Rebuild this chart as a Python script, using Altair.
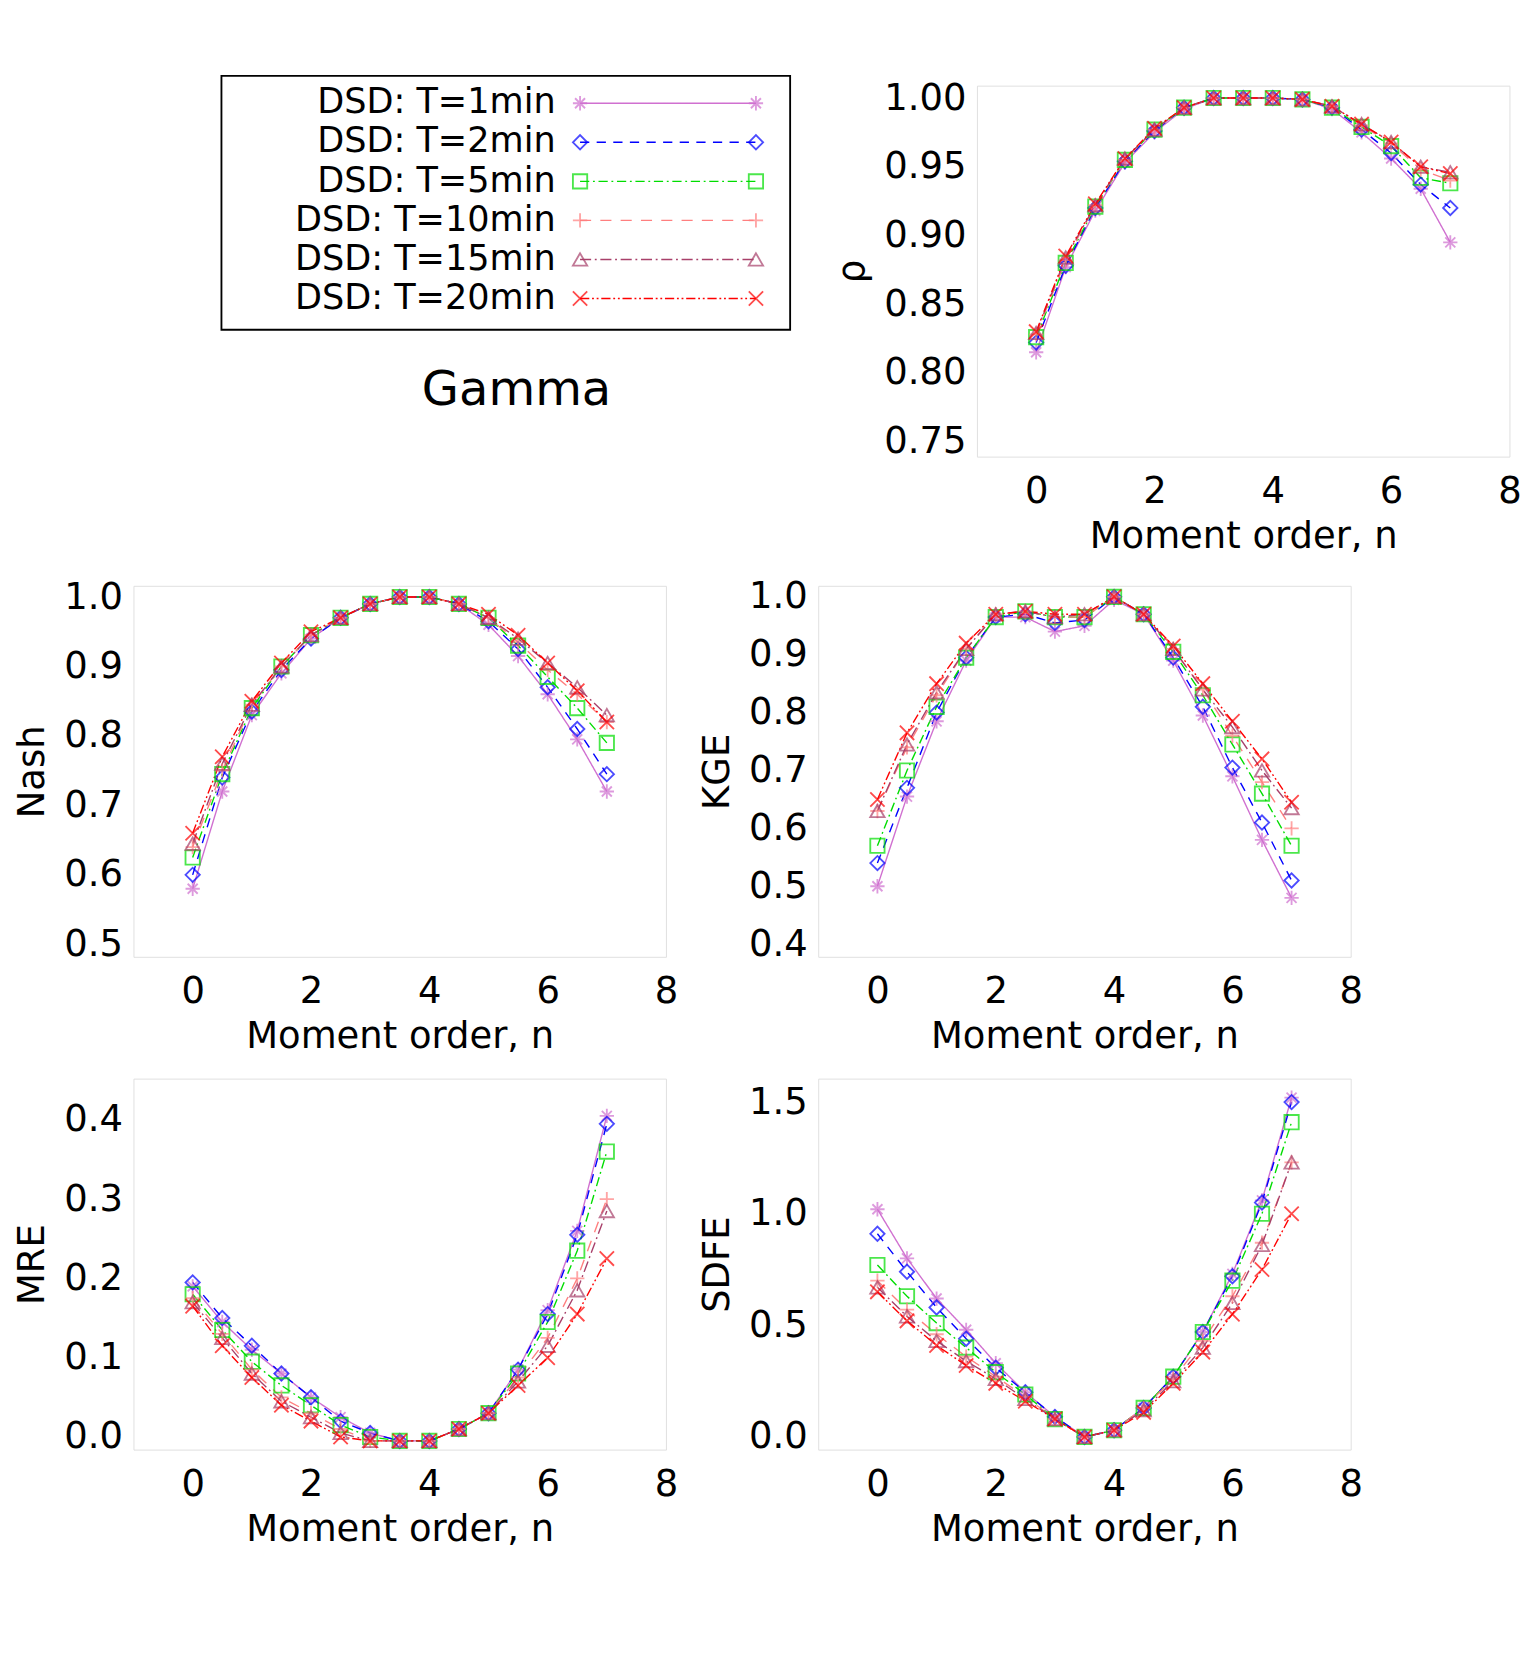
import altair as alt
import pandas as pd

n = [0, 0.5, 1, 1.5, 2, 2.5, 3, 3.5, 4, 4.5, 5, 5.5, 6, 6.5, 7]
series = ["DSD: T=1min", "DSD: T=2min", "DSD: T=5min", "DSD: T=10min", "DSD: T=15min", "DSD: T=20min"]
colors = ["#d070d0", "#0000ff", "#00dd00", "#ff7f7f", "#a8406a", "#ff0000"]
dashes = [[1, 0], [10, 8], [10, 4, 2, 4], [12, 10], [12, 4, 2, 4], [10, 3, 2, 3, 2, 3]]
shapes = [
    "M-1,0L1,0M0,-1L0,1M-0.7,-0.7L0.7,0.7M-0.7,0.7L0.7,-0.7",
    "diamond",
    "square",
    "M-1,0L1,0M0,-1L0,1",
    "triangle-up",
    "M-1,-1L1,1M-1,1L1,-1",
]

rho = [
    [0.815, 0.877, 0.918, 0.953, 0.975, 0.992, 1.0, 1.0, 1.0, 0.999, 0.992, 0.975, 0.956, 0.934, 0.895],
    [0.822, 0.878, 0.920, 0.954, 0.976, 0.993, 1.0, 1.0, 1.0, 0.999, 0.993, 0.977, 0.960, 0.937, 0.920],
    [0.826, 0.880, 0.921, 0.955, 0.977, 0.993, 1.0, 1.0, 1.0, 0.999, 0.993, 0.979, 0.965, 0.942, 0.938],
    [0.828, 0.882, 0.922, 0.955, 0.977, 0.993, 1.0, 1.0, 1.0, 0.999, 0.994, 0.980, 0.967, 0.948, 0.940],
    [0.829, 0.884, 0.922, 0.956, 0.977, 0.993, 1.0, 1.0, 1.0, 0.999, 0.994, 0.981, 0.968, 0.950, 0.946],
    [0.830, 0.885, 0.923, 0.956, 0.978, 0.993, 1.0, 1.0, 1.0, 0.999, 0.994, 0.981, 0.968, 0.950, 0.945],
]
nash = [
    [0.58, 0.72, 0.83, 0.89, 0.94, 0.97, 0.99, 1.0, 1.0, 0.99, 0.96, 0.915, 0.86, 0.795, 0.72],
    [0.60, 0.74, 0.835, 0.895, 0.94, 0.97, 0.99, 1.0, 1.0, 0.99, 0.965, 0.925, 0.87, 0.81, 0.745],
    [0.625, 0.745, 0.84, 0.90, 0.945, 0.97, 0.99, 1.0, 1.0, 0.99, 0.97, 0.93, 0.885, 0.84, 0.79],
    [0.64, 0.75, 0.845, 0.90, 0.945, 0.97, 0.99, 1.0, 1.0, 0.99, 0.97, 0.935, 0.895, 0.86, 0.82],
    [0.645, 0.76, 0.845, 0.90, 0.945, 0.97, 0.99, 1.0, 1.0, 0.99, 0.97, 0.94, 0.905, 0.87, 0.83],
    [0.66, 0.77, 0.85, 0.905, 0.95, 0.97, 0.99, 1.0, 1.0, 0.99, 0.975, 0.945, 0.905, 0.865, 0.82],
]
kge = [
    [0.50, 0.655, 0.785, 0.89, 0.965, 0.965, 0.94, 0.95, 0.995, 0.97, 0.89, 0.795, 0.69, 0.58, 0.48],
    [0.54, 0.67, 0.80, 0.895, 0.965, 0.97, 0.955, 0.96, 1.0, 0.97, 0.895, 0.81, 0.705, 0.61, 0.51],
    [0.57, 0.70, 0.81, 0.895, 0.965, 0.975, 0.965, 0.965, 1.0, 0.97, 0.905, 0.83, 0.745, 0.66, 0.57],
    [0.63, 0.74, 0.83, 0.91, 0.97, 0.975, 0.965, 0.965, 1.0, 0.97, 0.91, 0.84, 0.76, 0.68, 0.60],
    [0.63, 0.745, 0.835, 0.91, 0.97, 0.975, 0.965, 0.97, 1.0, 0.97, 0.91, 0.84, 0.775, 0.70, 0.635],
    [0.65, 0.765, 0.85, 0.92, 0.97, 0.975, 0.97, 0.97, 1.0, 0.97, 0.915, 0.85, 0.785, 0.72, 0.645],
]
mre = [
    [0.19, 0.145, 0.11, 0.08, 0.05, 0.025, 0.005, -0.005, -0.005, 0.01, 0.03, 0.085, 0.16, 0.26, 0.405],
    [0.195, 0.15, 0.115, 0.08, 0.05, 0.02, 0.005, -0.005, -0.005, 0.01, 0.03, 0.085, 0.155, 0.255, 0.395],
    [0.18, 0.135, 0.095, 0.065, 0.04, 0.015, 0.0, -0.005, -0.005, 0.01, 0.03, 0.08, 0.145, 0.235, 0.36],
    [0.175, 0.13, 0.085, 0.05, 0.03, 0.01, -0.005, -0.005, -0.005, 0.01, 0.03, 0.075, 0.125, 0.20, 0.30],
    [0.17, 0.125, 0.08, 0.045, 0.025, 0.005, -0.005, -0.005, -0.005, 0.01, 0.03, 0.07, 0.115, 0.185, 0.285],
    [0.165, 0.115, 0.075, 0.04, 0.02, 0.0, -0.005, -0.005, -0.005, 0.01, 0.03, 0.065, 0.10, 0.155, 0.225],
]
sdfe = [
    [1.02, 0.80, 0.62, 0.48, 0.33, 0.20, 0.09, 0.0, 0.03, 0.13, 0.27, 0.47, 0.73, 1.06, 1.52],
    [0.91, 0.74, 0.58, 0.44, 0.31, 0.20, 0.09, 0.0, 0.03, 0.13, 0.27, 0.47, 0.72, 1.05, 1.50],
    [0.77, 0.63, 0.51, 0.40, 0.29, 0.19, 0.08, 0.0, 0.03, 0.13, 0.27, 0.47, 0.70, 1.00, 1.41],
    [0.70, 0.57, 0.46, 0.36, 0.27, 0.18, 0.08, 0.0, 0.03, 0.13, 0.26, 0.43, 0.63, 0.87, 1.23],
    [0.67, 0.54, 0.43, 0.34, 0.26, 0.17, 0.08, 0.0, 0.03, 0.12, 0.25, 0.40, 0.60, 0.86, 1.23],
    [0.65, 0.52, 0.41, 0.32, 0.24, 0.16, 0.08, 0.0, 0.03, 0.11, 0.24, 0.38, 0.55, 0.75, 1.00],
]

FONT = "DejaVu Sans"
FS = 40
W, H = 577, 402

color_sc = alt.Scale(domain=series, range=colors)
dash_sc = alt.Scale(domain=series, range=dashes)
shape_sc = alt.Scale(domain=series, range=shapes)


def axis(**kw):
    return alt.Axis(grid=False, ticks=False, domain=False, labelFont=FONT, titleFont=FONT,
                    labelFontSize=FS, titleFontSize=FS, labelFontWeight="normal",
                    titleFontWeight="normal", labelColor="black", titleColor="black",
                    labelFlush=False, **kw)


def long_df(values):
    rows = []
    for s, vals in zip(series, values):
        for x, v in zip(n, vals):
            rows.append({"n": x, "v": v, "series": s})
    return pd.DataFrame(rows)


def panel(values, ytitle, ydom, yticks, yfmt):
    df = long_df(values)
    x = alt.X("n:Q", scale=alt.Scale(domain=[-1, 8], nice=False),
              axis=axis(values=[0, 2, 4, 6, 8], title="Moment order, n", labelPadding=18, titlePadding=8))
    y = alt.Y("v:Q", scale=alt.Scale(domain=ydom, nice=False, zero=False),
              axis=axis(values=yticks, format=yfmt, title=ytitle, labelPadding=12, titlePadding=14))
    base = alt.Chart(df).encode(x=x, y=y,
                                color=alt.Color("series:N", scale=color_sc, legend=None))
    lines = base.mark_line(strokeWidth=1.5).encode(
        strokeDash=alt.StrokeDash("series:N", scale=dash_sc, legend=None))
    pts = base.mark_point(filled=False, size=240, strokeWidth=2).encode(
        shape=alt.Shape("series:N", scale=shape_sc, legend=None))
    return (lines + pts).properties(width=W, height=H)


# legend panel (coordinates in reference pixels, scaled to chart size)
leg = pd.DataFrame({
    "series": series,
    "y": [18, 58, 98, 138, 178, 218],
    "x0": [457] * 6,
    "x1": [637] * 6,
    "tx": [432] * 6,
})
LW = 738
lx = alt.Scale(domain=[0, 697], range=[0, LW], nice=False, zero=False)
ly = alt.Scale(domain=[0, 380], range=[0, H], nice=False, zero=False)
lbase = alt.Chart(leg).encode(y=alt.Y("y:Q", scale=ly, axis=None),
                              color=alt.Color("series:N", scale=color_sc, legend=None))
lrule = lbase.mark_rule(strokeWidth=1.5).encode(
    x=alt.X("x0:Q", scale=lx, axis=None), x2="x1:Q",
    strokeDash=alt.StrokeDash("series:N", scale=dash_sc, legend=None))
lp0 = lbase.mark_point(filled=False, size=240, strokeWidth=2).encode(
    x=alt.X("x0:Q", scale=lx, axis=None), shape=alt.Shape("series:N", scale=shape_sc, legend=None))
lp1 = lbase.mark_point(filled=False, size=240, strokeWidth=2).encode(
    x=alt.X("x1:Q", scale=lx, axis=None), shape=alt.Shape("series:N", scale=shape_sc, legend=None))
ltext = alt.Chart(leg).mark_text(align="right", baseline="middle", fontSize=38, font=FONT,
                                 color="black").encode(
    x=alt.X("tx:Q", scale=lx, axis=None), y=alt.Y("y:Q", scale=ly, axis=None), text="series:N")
box = pd.DataFrame({"x": [90], "x2": [672], "y": [-10], "y2": [250]})
lbox = alt.Chart(box).mark_rect(fill="white", stroke="black", strokeWidth=2).encode(
    x=alt.X("x:Q", scale=lx, axis=None), x2="x2:Q",
    y=alt.Y("y:Q", scale=ly, axis=None), y2="y2:Q")
gam = pd.DataFrame({"x": [392], "y": [312], "t": ["Gamma"]})
lgam = alt.Chart(gam).mark_text(fontSize=52, font=FONT, color="black").encode(
    x=alt.X("x:Q", scale=lx, axis=None), y=alt.Y("y:Q", scale=ly, axis=None), text="t:N")
legend_chart = (lbox + lrule + lp0 + lp1 + ltext + lgam).properties(
    width=LW, height=H, view=alt.ViewConfig(stroke=None))

p_rho = panel(rho, "ρ", [0.739, 1.009], [0.75, 0.80, 0.85, 0.90, 0.95, 1.00], ".2f")
p_nash = panel(nash, "Nash", [0.482, 1.016], [0.5, 0.6, 0.7, 0.8, 0.9, 1.0], ".1f")
p_kge = panel(kge, "KGE", [0.378, 1.019], [0.4, 0.5, 0.6, 0.7, 0.8, 0.9, 1.0], ".1f")
p_mre = panel(mre, "MRE", [-0.016, 0.452], [0.0, 0.1, 0.2, 0.3, 0.4], ".1f")
p_sdfe = panel(sdfe, "SDFE", [-0.057, 1.605], [0.0, 0.5, 1.0, 1.5], ".1f")

row1 = alt.hconcat(legend_chart, p_rho, spacing=20)
row2 = alt.hconcat(p_nash, p_kge, spacing=20)
row3 = alt.hconcat(p_mre, p_sdfe, spacing=20)

chart = alt.vconcat(row1, row2, row3, spacing=24).configure_view(
    stroke="black", strokeWidth=2).configure(background="white")

chart.save("out.html", embed_options={"renderer": "svg", "actions": False})
